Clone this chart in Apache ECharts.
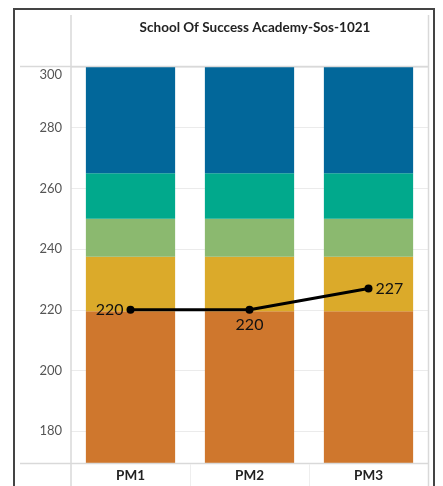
<!DOCTYPE html>
<html>
<head>
<meta charset="utf-8">
<script src="https://cdn.jsdelivr.net/npm/echarts@6/dist/echarts.min.js"></script>
<style>
  html, body { margin: 0; padding: 0; background: #fff; }
  #chart { width: 443px; height: 486px; }
</style>
</head>
<body>
<div id="chart"></div>
<script>
var categories = ['PM1', 'PM2', 'PM3'];
// upper edge of each coloured band, bottom to top
var bandNames = ['Band1', 'Band2', 'Band3', 'Band4', 'Band5'];
var bandTops = [219.5, 237.5, 250, 265, 300];
var bandColors = ['#cf772d', '#dbaa2a', '#8bb96f', '#01a98c', '#02679a'];
var scores = [220, 220, 227];
var scoreLabelPos = ['left', 'bottom', 'right'];
var yTicks = [180, 200, 220, 240, 260, 280, 300];
var yMin = 169.5, yMax = 300;

var chart = echarts.init(document.getElementById('chart'));

var series = bandTops.map(function (top, i) {
  var size = i === 0 ? top : top - bandTops[i - 1];
  return {
    name: bandNames[i],
    type: 'bar',
    stack: 'bands',
    barCategoryGap: '25%',
    itemStyle: { color: bandColors[i] },
    silent: true,
    data: categories.map(function () { return size; })
  };
});

series.push({
  name: 'Score',
  type: 'line',
  z: 5,
  symbol: 'circle',
  symbolSize: 8,
  lineStyle: { color: '#000', width: 3 },
  itemStyle: { color: '#000' },
  data: scores.map(function (v, i) {
    return { value: v, label: { position: scoreLabelPos[i] } };
  }),
  label: {
    show: true,
    color: '#111',
    fontSize: 16,
    fontFamily: 'Lato',
    distance: 3
  }
});

chart.setOption({
  animation: false,
  title: {
    text: 'School Of Success Academy-Sos-1021',
    left: 250,
    top: 16,
    textAlign: 'center',
    textStyle: { fontSize: 13.5, fontWeight: 'bold', color: '#222', fontFamily: 'Lato' }
  },
  grid: { left: 71, right: 15, top: 67, bottom: 23 },
  xAxis: {
    type: 'category',
    data: categories,
    axisLine: { show: false },
    axisTick: { show: false },
    axisLabel: { fontSize: 13.5, fontWeight: 'bold', color: '#222', fontFamily: 'Lato', margin: 6 }
  },
  yAxis: {
    type: 'value',
    min: yMin,
    max: yMax,
    axisLine: { show: false },
    axisTick: { show: false, customValues: yTicks },
    axisLabel: {
      customValues: yTicks,
      fontSize: 13,
      color: '#555',
      fontFamily: 'Lato',
      margin: 9,
      formatter: function (v) { return v === yMax ? '{top|' + v + '}' : String(v); },
      rich: { top: { fontSize: 13, color: '#555', fontFamily: 'Lato', padding: [16, 0, 0, 0] } }
    },
    splitLine: { lineStyle: { color: '#ebebeb' } }
  },
  graphic: [
    { type: 'rect', shape: { x: 14, y: 9, width: 420, height: 490 }, style: { fill: null, stroke: '#444', lineWidth: 2 }, z: 10 },
    { type: 'line', shape: { x1: 71, y1: 15, x2: 71, y2: 486 }, style: { stroke: '#d9d9d9', lineWidth: 1.5 }, z: 9 },
    { type: 'line', shape: { x1: 428.5, y1: 15, x2: 428.5, y2: 486 }, style: { stroke: '#d9d9d9', lineWidth: 1.5 }, z: 9 },
    { type: 'line', shape: { x1: 20, y1: 66.5, x2: 429, y2: 66.5 }, style: { stroke: '#d9d9d9', lineWidth: 1.5 }, z: 9 },
    { type: 'line', shape: { x1: 20, y1: 463.5, x2: 429, y2: 463.5 }, style: { stroke: '#d9d9d9', lineWidth: 1.5 }, z: 9 },
    { type: 'line', shape: { x1: 190.5, y1: 464, x2: 190.5, y2: 486 }, style: { stroke: '#eeeeee', lineWidth: 1 }, z: 9 },
    { type: 'line', shape: { x1: 309.5, y1: 464, x2: 309.5, y2: 486 }, style: { stroke: '#eeeeee', lineWidth: 1 }, z: 9 }
  ],
  series: series
});
</script>
</body>
</html>
